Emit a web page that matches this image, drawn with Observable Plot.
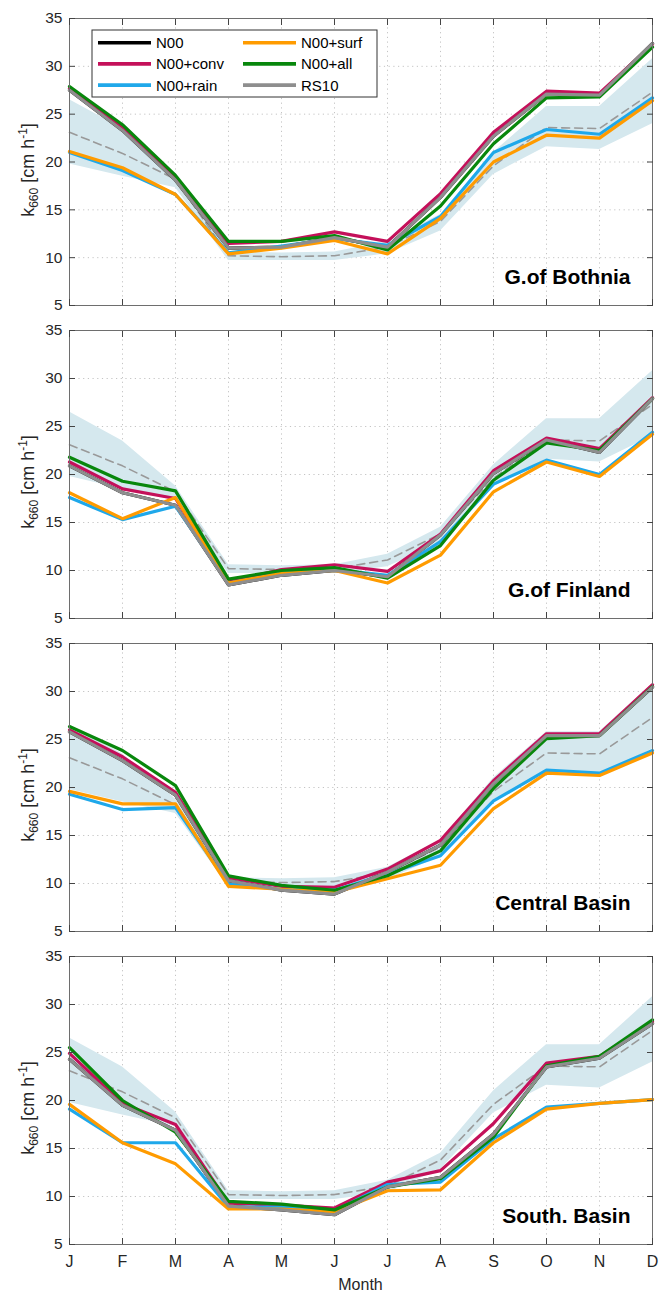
<!DOCTYPE html>
<html><head><meta charset="utf-8">
<script src="https://cdn.jsdelivr.net/npm/d3@7"></script>
<script src="https://cdn.jsdelivr.net/npm/@observablehq/plot@0.6"></script>
<style>body{margin:0;background:#fff}#chart svg{display:block}</style>
</head><body><div id="chart"></div>
<script>
const months = ["J","F","M","A","M","J","J","A","S","O","N","D"];
const regions = ["G.of Bothnia","G.of Finland","Central Basin","South. Basin"];
const seriesNames = ["N00","N00+conv","N00+rain","N00+surf","N00+all","RS10"];
const seriesColors = ["#000000","#c4105a","#1fa8ea","#ff9b00","#08870c","#8e8e8e"];
const yTicks = [5,10,15,20,25,30,35];

// rows: regions (Bothnia, Finland, Central, South)
const N00 = [
  [27.5,23.3,18.1,11.0,11.1,12.1,11.1,16.3,22.7,27.1,27.0,32.4],
  [20.9,18.1,16.8,8.5,9.5,10.0,9.35,13.7,20.1,23.6,22.3,27.9],
  [25.8,22.8,19.2,10.3,9.3,8.9,11.2,14.0,20.4,25.4,25.4,30.45],
  [24.3,19.5,16.9,9.0,8.6,8.1,11.0,12.0,16.5,23.5,24.4,28.0]
];
const N00conv = [
  [27.7,23.6,18.4,11.5,11.7,12.7,11.7,16.7,23.1,27.4,27.2,32.3],
  [21.3,18.5,17.5,8.8,10.1,10.6,9.9,13.8,20.4,23.8,22.7,28.0],
  [26.0,23.2,19.5,10.6,9.7,9.6,11.5,14.5,20.7,25.6,25.6,30.7],
  [24.9,19.7,17.5,9.3,9.1,8.8,11.5,12.7,17.6,23.9,24.6,28.2]
];
const N00rain = [
  [21.0,19.1,16.6,10.5,11.2,12.0,11.3,14.3,21.0,23.4,22.9,26.7],
  [17.6,15.3,16.7,8.7,9.7,10.1,9.5,13.0,19.0,21.5,20.0,24.4],
  [19.3,17.7,17.9,9.95,9.4,9.3,11.0,12.9,18.6,21.8,21.5,23.85],
  [19.1,15.6,15.6,8.9,8.9,8.5,11.25,11.5,16.0,19.3,19.7,20.1]
];
const N00surf = [
  [21.1,19.4,16.6,10.4,11.0,11.8,10.4,14.1,20.0,22.8,22.5,26.4],
  [18.1,15.4,17.6,8.7,9.7,10.0,8.7,11.6,18.2,21.3,19.8,24.2],
  [19.6,18.3,18.3,9.7,9.4,9.1,10.5,11.9,17.8,21.5,21.25,23.6],
  [19.6,15.6,13.4,8.7,8.7,8.4,10.6,10.7,15.6,19.1,19.7,20.1]
];
const N00all = [
  [27.9,23.9,18.6,11.7,11.7,12.3,10.8,15.4,21.9,26.7,26.8,32.0],
  [21.8,19.3,18.3,9.1,10.0,10.3,9.2,12.6,19.4,23.3,22.5,27.9],
  [26.35,23.85,20.2,10.8,9.8,9.3,10.8,13.4,19.9,25.1,25.4,30.5],
  [25.5,20.0,16.7,9.5,9.2,8.6,11.0,11.85,16.2,23.6,24.6,28.4]
];
const RS10 = [
  [27.5,23.3,18.1,11.0,11.1,12.1,11.1,16.3,22.7,27.1,27.0,32.4],
  [20.9,18.1,16.8,8.5,9.5,10.0,9.35,13.7,20.1,23.6,22.3,27.9],
  [25.8,22.8,19.2,10.3,9.3,8.9,11.2,14.0,20.4,25.4,25.4,30.45],
  [24.3,19.5,16.9,9.0,8.6,8.1,11.0,12.0,16.5,23.5,24.4,28.0]
];
const seriesArrays = [N00, N00conv, N00rain, N00surf, N00all, RS10];

// observation-based reference (dashed line) and its range (shaded band)
const obsMean = [23.1,20.9,18.2,10.2,10.1,10.2,11.1,13.8,19.6,23.6,23.5,27.3];
const obsLow  = [19.8,18.5,17.3,9.7,9.7,9.7,10.4,12.8,18.7,21.6,21.3,24.0];
const obsHigh = [26.5,23.5,18.8,10.6,10.5,10.6,11.7,14.5,21.0,25.8,25.8,30.8];

const FONT = "'Liberation Sans', Arial, Helvetica, sans-serif";
const heights = [312,313,313,356];
const container = document.getElementById("chart");

regions.forEach((name, r) => {
  const last = r === regions.length - 1;
  const band = months.map((m, i) => ({i, mean: obsMean[i], lo: obsLow[i], hi: obsHigh[i]}));
  const long = [];
  seriesArrays.forEach((arr, s) => arr[r].forEach((v, i) => long.push({i, v, s: seriesNames[s]})));
  const plot = Plot.plot({
    width: 668, height: heights[r],
    marginLeft: 69, marginRight: 16, marginTop: 18, marginBottom: last ? 50 : 7,
    style: {fontFamily: FONT, fontSize: "16px", color: "#262626", background: "#fff", overflow: "visible"},
    x: {domain: [0, 11], label: null},
    y: {domain: [5, 35], label: null},
    color: {domain: seriesNames, range: seriesColors},
    marks: [
      Plot.gridX(d3.range(1, 11), {stroke: "#c4c4c4", strokeOpacity: 1, strokeDasharray: "1.2,3.5"}),
      Plot.gridY([10, 15, 20, 25, 30], {stroke: "#c4c4c4", strokeOpacity: 1, strokeDasharray: "1.2,3.5"}),
      Plot.areaY(band, {x: "i", y1: "lo", y2: "hi", fill: "#d5e8ee"}),
      Plot.lineY(band, {x: "i", y: "mean", stroke: "#999999", strokeWidth: 1.6, strokeDasharray: "8,5"}),
      Plot.lineY(long, {x: "i", y: "v", z: "s", stroke: "s", strokeWidth: 3.2, strokeLinejoin: "round"}),
      Plot.frame({stroke: "#6e6e6e", strokeWidth: 1}),
      Plot.axisY(yTicks, {anchor: "left", tickSize: -6, tickPadding: 13, fontSize: 15.5, stroke: "#444", label: null}),
      Plot.axisY(yTicks, {anchor: "right", tickSize: -6, tickFormat: () => "", stroke: "#444", label: null}),
      Plot.axisX(d3.range(12), {anchor: "top", tickSize: -6, tickFormat: () => "", stroke: "#444", label: null}),
      Plot.axisX(d3.range(12), {anchor: "bottom", tickSize: -6, tickPadding: last ? 17 : 0,
        tickFormat: last ? (i => months[i]) : (() => ""), stroke: "#444", fontSize: 16, label: null}),
      Plot.text([name], {frameAnchor: "bottom-right", dx: -22, dy: -22, textAnchor: "end", lineAnchor: "bottom",
        fontWeight: "bold", fontSize: 21, fill: "#000"})
    ]
  });
  container.appendChild(plot);
  const svg = d3.select(plot);
  // y-axis title with subscript / superscript
  const cy = 18 + 144;
  const t = svg.append("text")
    .attr("transform", `translate(34,${cy + 8}) rotate(-90)`)
    .attr("text-anchor", "middle")
    .attr("font-family", FONT).attr("font-size", 18).attr("fill", "#262626");
  t.append("tspan").text("k");
  t.append("tspan").attr("font-size", 12).attr("dy", 4).text("660");
  t.append("tspan").attr("dy", -4).text(" [cm h");
  t.append("tspan").attr("font-size", 12).attr("dy", -7).text("-1");
  t.append("tspan").attr("dy", 7).text("]");

  if (r === 0) {
    const lg = svg.append("g").attr("font-family", FONT).attr("font-size", 15).attr("fill", "#000")
      .attr("text-anchor", "start");
    lg.append("rect").attr("x", 92).attr("y", 30).attr("width", 285).attr("height", 67)
      .attr("fill", "#fff").attr("stroke", "#333").attr("stroke-width", 1);
    seriesNames.forEach((nm, k) => {
      const col = k < 3 ? 0 : 1, row = k % 3;
      const x0 = col === 0 ? 98 : 243, yy = 42.7 + row * 21.2;
      lg.append("line").attr("x1", x0).attr("x2", x0 + 53).attr("y1", yy).attr("y2", yy)
        .attr("stroke", seriesColors[k]).attr("stroke-width", 3.6);
      lg.append("text").attr("x", x0 + 58).attr("y", yy).attr("dy", "0.36em")
        .attr("text-anchor", "start").text(nm);
    });
  }
  if (last) {
    svg.append("text").attr("x", (69 + 652) / 2).attr("y", heights[r] - 4)
      .attr("text-anchor", "middle").attr("font-family", FONT).attr("font-size", 16)
      .attr("fill", "#262626").text("Month");
  }
});
</script></body></html>
